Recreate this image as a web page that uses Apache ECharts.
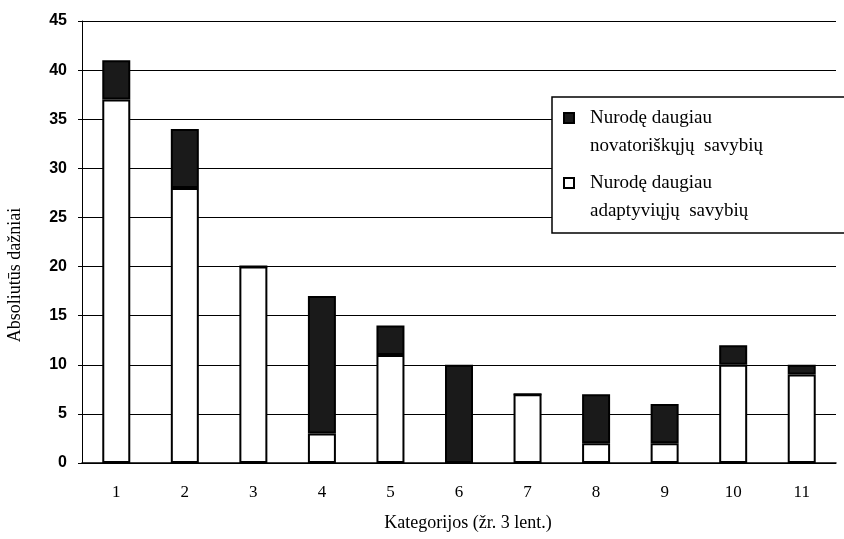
<!DOCTYPE html>
<html>
<head>
<meta charset="utf-8">
<script src="https://cdn.jsdelivr.net/npm/echarts@6/dist/echarts.min.js"></script>
<style>
  html, body { margin: 0; padding: 0; background: #fff; }
  #chart { width: 844px; height: 539px; }
</style>
</head>
<body>
<div id="chart"></div>
<script>
const categories = ['1', '2', '3', '4', '5', '6', '7', '8', '9', '10', '11']
const adaptive = [37, 28, 20, 3, 11, 0, 7, 2, 2, 10, 9]
const innovative = [4, 6, 0, 14, 3, 10, 0, 5, 4, 2, 1]
const yTicks = [0, 5, 10, 15, 20, 25, 30, 35, 40, 45]

const nameInnovative = 'Nurodę daugiau\nnovatoriškųjų  savybių'
const nameAdaptive = 'Nurodę daugiau\nadaptyviųjų  savybių'

const serif = '"Liberation Serif", "DejaVu Serif", serif'

const chart = echarts.init(document.getElementById('chart'), null, { renderer: 'canvas' })

chart.setOption({
  animation: false,
  backgroundColor: '#fff',
  grid: { left: 82, right: 8, top: 21, bottom: 76, outerBoundsMode: 'none' },
  graphic: [
    {
      type: 'rect',
      z: 3,
      shape: { x: 552, y: 97, width: 320, height: 136 },
      style: { fill: '#fff', stroke: '#000', lineWidth: 1.5 }
    }
  ],
  legend: {
    data: [nameInnovative, nameAdaptive],
    orient: 'vertical',
    left: 563,
    top: 76,
    padding: 0,
    itemGap: -19,
    itemWidth: 10,
    itemHeight: 10,
    icon: 'rect',
    z: 5,
    // blank first line keeps the icon level with the first text line
    formatter: name => ' \n' + name,
    textStyle: {
      fontFamily: serif,
      fontSize: 19,
      color: '#000',
      lineHeight: 28,
      padding: [0, 0, 0, 11]
    }
  },
  xAxis: {
    type: 'category',
    data: categories,
    name: 'Kategorijos (žr. 3 lent.)',
    nameLocation: 'middle',
    nameGap: 51,
    nameTextStyle: { fontFamily: serif, fontSize: 18, color: '#000', padding: [0, 0, 0, 18] },
    axisLine: { lineStyle: { color: '#000', width: 1.5 } },
    axisTick: { length: 5, lineStyle: { color: '#000' } },
    axisLabel: { fontFamily: serif, fontSize: 17, color: '#000', margin: 21 }
  },
  yAxis: {
    type: 'value',
    min: yTicks[0],
    max: yTicks[yTicks.length - 1],
    interval: 5,
    name: 'Absoliutūs dažniai',
    nameLocation: 'middle',
    nameGap: 58,
    nameTextStyle: { fontFamily: serif, fontSize: 18, color: '#000', padding: [0, 66, 0, 0] },
    axisLine: { show: true, lineStyle: { color: '#000', width: 1 } },
    axisTick: { show: true, length: 4, lineStyle: { color: '#000' } },
    axisLabel: {
      fontFamily: '"Liberation Sans", Arial, sans-serif',
      fontSize: 16,
      fontWeight: 'bold',
      color: '#000',
      margin: 15
    },
    splitLine: { lineStyle: { color: '#000', width: 1 } }
  },
  series: [
    {
      name: nameAdaptive,
      type: 'bar',
      stack: 'total',
      barWidth: 28,
      data: adaptive,
      itemStyle: { color: '#fff', borderColor: '#000', borderWidth: 2 }
    },
    {
      name: nameInnovative,
      type: 'bar',
      stack: 'total',
      barWidth: 28,
      data: innovative,
      itemStyle: { color: '#1a1a1a', borderColor: '#000', borderWidth: 2 }
    }
  ]
})
</script>
</body>
</html>
